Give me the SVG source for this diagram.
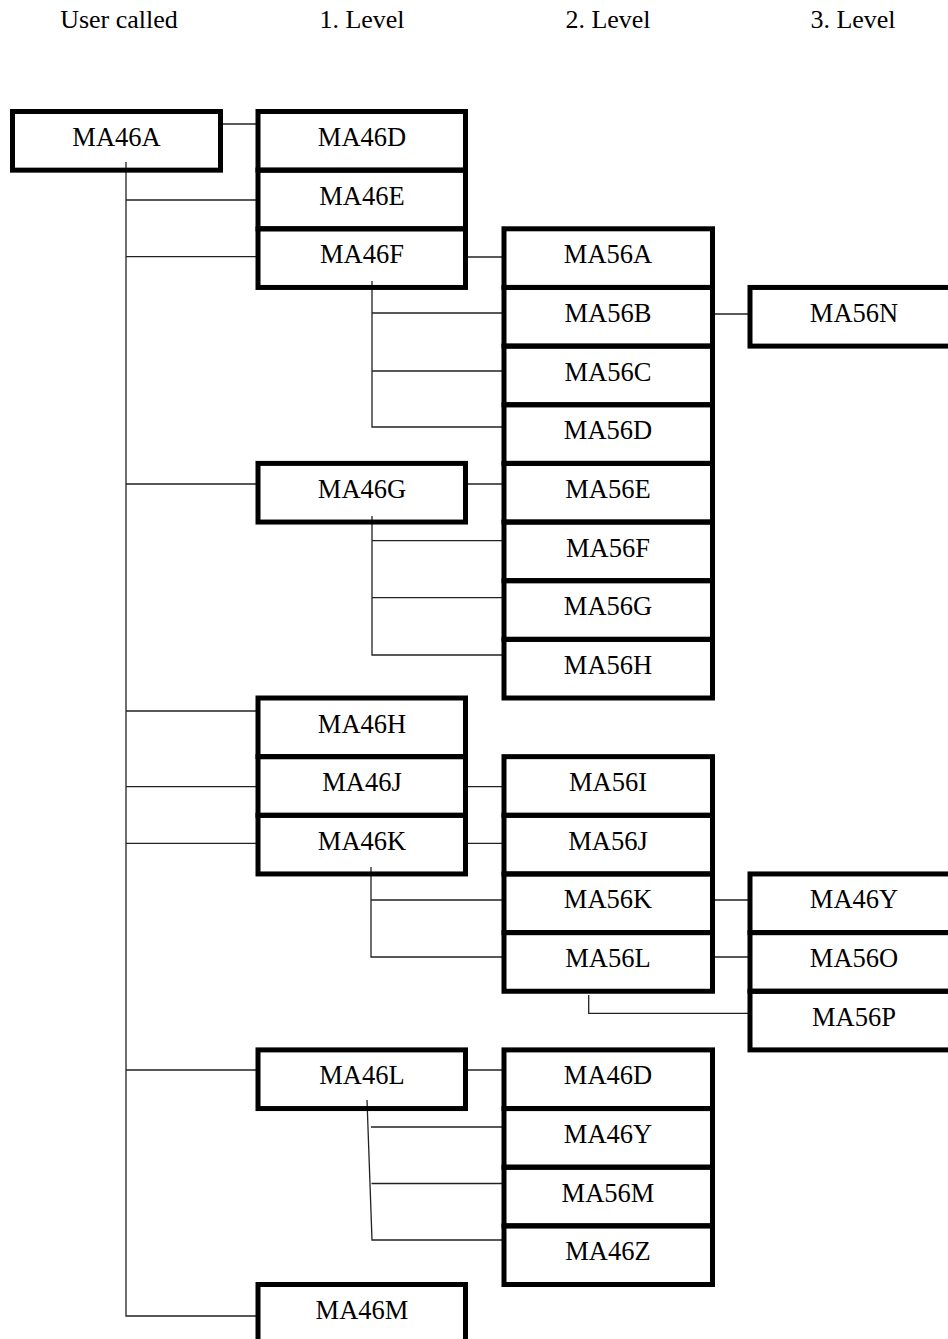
<svg xmlns="http://www.w3.org/2000/svg" width="948" height="1339" viewBox="0 0 948 1339">
<style>
.bg{fill:#ffffff}
.box{fill:none;stroke:#000;stroke-width:5}
.lbl{font-family:"Liberation Serif","Times New Roman",serif;font-size:26.5px;fill:#000;text-anchor:middle}
.hdr{font-family:"Liberation Serif","Times New Roman",serif;font-size:26px;fill:#000;text-anchor:middle}
.con{fill:none;stroke:#222;stroke-width:1.3}
</style>
<rect class="bg" x="0" y="0" width="948" height="1339"/>
<g id="headers">
<text class="hdr" x="119" y="27.5">User called</text>
<text class="hdr" x="362" y="27.5">1. Level</text>
<text class="hdr" x="608" y="27.5">2. Level</text>
<text class="hdr" x="853" y="27.5">3. Level</text>
</g>
<g id="connectors">
<path class="con" d="M220.5 124H258"/>
<path class="con" d="M126 162V1316H258"/>
<path class="con" d="M126 200H258M126 256.7H258M126 484H258M126 711H258M126 786.7H258M126 843.3H258M126 1070H258"/>
<path class="con" d="M465.5 257H504"/>
<path class="con" d="M372 281V427H504M372 313H504M372 371H504"/>
<path class="con" d="M712.5 314H750"/>
<path class="con" d="M465.5 484H504"/>
<path class="con" d="M372 516V655H504M372 540.7H504M372 597.7H504"/>
<path class="con" d="M465.5 786.7H504M465.5 843.3H504"/>
<path class="con" d="M371 867V957H504M371 900H504"/>
<path class="con" d="M712.5 900H750M712.5 957H750"/>
<path class="con" d="M588.7 995V1013.3H750"/>
<path class="con" d="M465.5 1070H504"/>
<path class="con" d="M367 1100L372 1240H504M371 1127H504M371.5 1183.5H504"/>
</g>
<g id="n-MA46A"><rect class="box" x="12.5" y="111.5" width="208" height="58.65"/><text class="lbl" x="116.5" y="146">MA46A</text></g>
<g id="n-MA46D-1"><rect class="box" x="258" y="111.5" width="207.5" height="58.65"/><text class="lbl" x="362" y="146">MA46D</text></g>
<g id="n-MA46E"><rect class="box" x="258" y="170.15" width="207.5" height="58.65"/><text class="lbl" x="362" y="204.65">MA46E</text></g>
<g id="n-MA46F"><rect class="box" x="258" y="228.8" width="207.5" height="58.65"/><text class="lbl" x="362" y="263.3">MA46F</text></g>
<g id="n-MA46G"><rect class="box" x="258" y="463.4" width="207.5" height="58.65"/><text class="lbl" x="362" y="497.9">MA46G</text></g>
<g id="n-MA46H"><rect class="box" x="258" y="698" width="207.5" height="58.65"/><text class="lbl" x="362" y="732.5">MA46H</text></g>
<g id="n-MA46J"><rect class="box" x="258" y="756.65" width="207.5" height="58.65"/><text class="lbl" x="362" y="791.15">MA46J</text></g>
<g id="n-MA46K"><rect class="box" x="258" y="815.3" width="207.5" height="58.65"/><text class="lbl" x="362" y="849.8">MA46K</text></g>
<g id="n-MA46L"><rect class="box" x="258" y="1049.9" width="207.5" height="58.65"/><text class="lbl" x="362" y="1084.4">MA46L</text></g>
<g id="n-MA46M"><rect class="box" x="258" y="1284.5" width="207.5" height="58.65"/><text class="lbl" x="362" y="1319">MA46M</text></g>
<g id="n-MA56A"><rect class="box" x="504" y="228.8" width="208.5" height="58.65"/><text class="lbl" x="608" y="263.3">MA56A</text></g>
<g id="n-MA56B"><rect class="box" x="504" y="287.45" width="208.5" height="58.65"/><text class="lbl" x="608" y="321.95">MA56B</text></g>
<g id="n-MA56C"><rect class="box" x="504" y="346.1" width="208.5" height="58.65"/><text class="lbl" x="608" y="380.6">MA56C</text></g>
<g id="n-MA56D"><rect class="box" x="504" y="404.75" width="208.5" height="58.65"/><text class="lbl" x="608" y="439.25">MA56D</text></g>
<g id="n-MA56E"><rect class="box" x="504" y="463.4" width="208.5" height="58.65"/><text class="lbl" x="608" y="497.9">MA56E</text></g>
<g id="n-MA56F"><rect class="box" x="504" y="522.05" width="208.5" height="58.65"/><text class="lbl" x="608" y="556.55">MA56F</text></g>
<g id="n-MA56G"><rect class="box" x="504" y="580.7" width="208.5" height="58.65"/><text class="lbl" x="608" y="615.2">MA56G</text></g>
<g id="n-MA56H"><rect class="box" x="504" y="639.35" width="208.5" height="58.65"/><text class="lbl" x="608" y="673.85">MA56H</text></g>
<g id="n-MA56I"><rect class="box" x="504" y="756.65" width="208.5" height="58.65"/><text class="lbl" x="608" y="791.15">MA56I</text></g>
<g id="n-MA56J"><rect class="box" x="504" y="815.3" width="208.5" height="58.65"/><text class="lbl" x="608" y="849.8">MA56J</text></g>
<g id="n-MA56K"><rect class="box" x="504" y="873.95" width="208.5" height="58.65"/><text class="lbl" x="608" y="908.45">MA56K</text></g>
<g id="n-MA56L"><rect class="box" x="504" y="932.6" width="208.5" height="58.65"/><text class="lbl" x="608" y="967.1">MA56L</text></g>
<g id="n-MA46D-2"><rect class="box" x="504" y="1049.9" width="208.5" height="58.65"/><text class="lbl" x="608" y="1084.4">MA46D</text></g>
<g id="n-MA46Y-2"><rect class="box" x="504" y="1108.55" width="208.5" height="58.65"/><text class="lbl" x="608" y="1143.05">MA46Y</text></g>
<g id="n-MA56M"><rect class="box" x="504" y="1167.2" width="208.5" height="58.65"/><text class="lbl" x="608" y="1201.7">MA56M</text></g>
<g id="n-MA46Z"><rect class="box" x="504" y="1225.85" width="208.5" height="58.65"/><text class="lbl" x="608" y="1260.35">MA46Z</text></g>
<g id="n-MA56N"><rect class="box" x="750" y="287.45" width="208" height="58.65"/><text class="lbl" x="854" y="321.95">MA56N</text></g>
<g id="n-MA46Y-3"><rect class="box" x="750" y="873.95" width="208" height="58.65"/><text class="lbl" x="854" y="908.45">MA46Y</text></g>
<g id="n-MA56O"><rect class="box" x="750" y="932.6" width="208" height="58.65"/><text class="lbl" x="854" y="967.1">MA56O</text></g>
<g id="n-MA56P"><rect class="box" x="750" y="991.25" width="208" height="58.65"/><text class="lbl" x="854" y="1025.75">MA56P</text></g>
</svg>
